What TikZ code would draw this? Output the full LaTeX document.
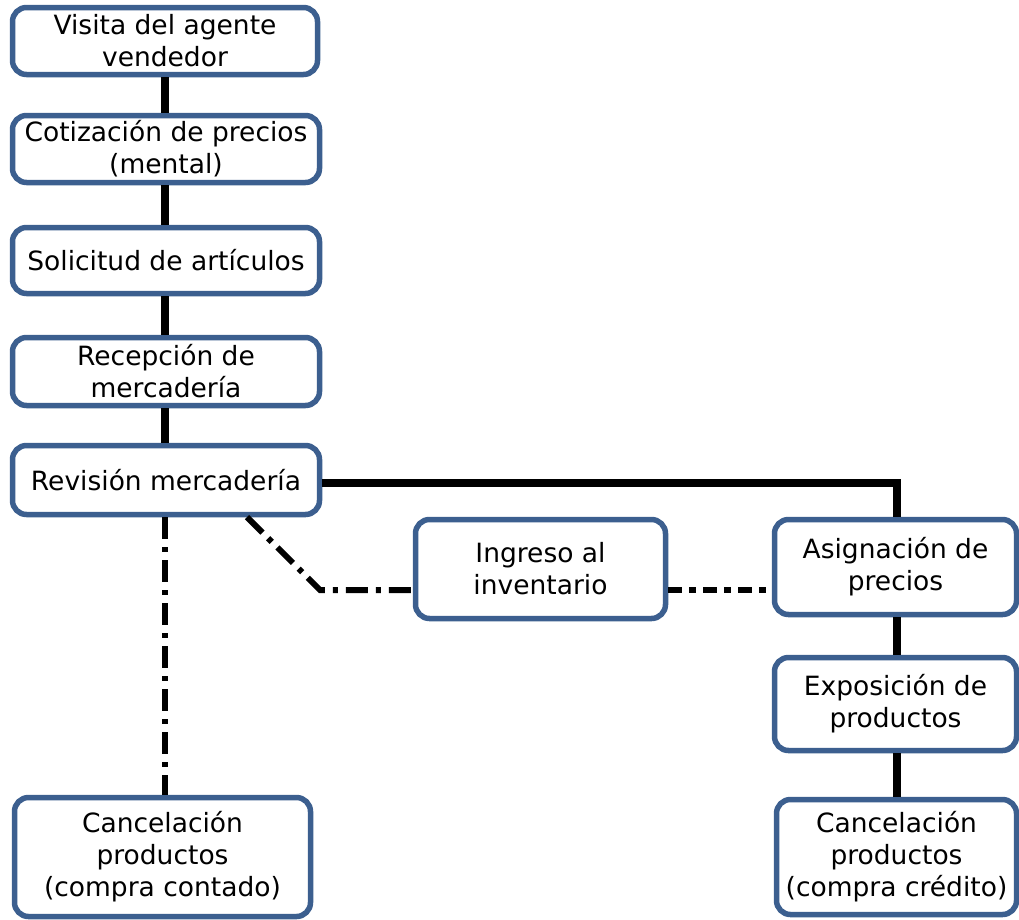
\documentclass[tikz,border=0pt]{standalone}
\usepackage{fontspec}
\setmainfont{DejaVu Sans}
\definecolor{boxblue}{RGB}{60,95,143}
\begin{document}
\begin{tikzpicture}[x=1pt,y=-1pt,
  stepbox/.style={draw=boxblue, line width=5.5pt, rounded corners=14pt, fill=white,
    align=center, inner sep=1pt,
    font=\fontsize{26.5}{32}\selectfont},
  solidlink/.style={line width=8pt, black},
  dashlink/.style={line width=6pt, black, dash pattern=on 22pt off 8pt on 5pt off 8pt},
  densedash/.style={line width=6pt, black, dash pattern=on 14pt off 7pt on 7pt off 7pt}]
\useasboundingbox (0,0) rectangle (1019,919);

% free turning points of the connectors
\coordinate (diag) at (320,590);
\coordinate (corner) at (897,483);
\coordinate (diagstart) at (247,517);

% process steps
\node[stepbox, minimum width=305pt, minimum height=67pt] (visita) at (165,41) {Visita del agente\\vendedor};
\node[stepbox, minimum width=307pt, minimum height=67pt] (cotiz) at (166,149) {Cotización de precios\\(mental)};
\node[stepbox, minimum width=307pt, minimum height=66pt] (solic) at (166,260.5) {Solicitud de artículos};
\node[stepbox, minimum width=307pt, minimum height=68pt] (recep) at (166,371.5) {Recepción de\\mercadería};
\node[stepbox, minimum width=307pt, minimum height=69pt] (revis) at (166,480) {Revisión mercadería};
\node[stepbox, minimum width=250pt, minimum height=99pt] (ingreso) at (540.5,569) {Ingreso al\\inventario};
\node[stepbox, minimum width=242pt, minimum height=95pt] (asign) at (895.5,567) {Asignación de\\precios};
\node[stepbox, minimum width=242pt, minimum height=93pt] (expo) at (895.5,704) {Exposición de\\productos};
\node[stepbox, minimum width=296pt, minimum height=119pt] (cancL) at (162.5,857) {Cancelación\\productos\\(compra contado)};
\node[stepbox, minimum width=240pt, minimum height=115pt] (cancR) at (896.5,857) {Cancelación\\productos\\(compra crédito)};

% solid links
\draw[solidlink] (visita.south -| 165,0) -- (cotiz.north -| 165,0);
\draw[solidlink] (cotiz.south -| 165,0) -- (solic.north -| 165,0);
\draw[solidlink] (solic.south -| 165,0) -- (recep.north -| 165,0);
\draw[solidlink] (recep.south -| 165,0) -- (revis.north -| 165,0);
\draw[solidlink] (revis.east |- corner) -- (corner) -- (asign.north -| corner);
\draw[solidlink] (asign.south -| corner) -- (expo.north -| corner);
\draw[solidlink] (expo.south -| corner) -- (cancR.north -| corner);

% dash-dot links
\draw[dashlink] (revis.south -| 165,0) -- (cancL.north -| 165,0);
\draw[dashlink] (diagstart) -- (diag) -- (ingreso.west |- diag);
\draw[densedash] (ingreso.east |- diag) -- (asign.west |- diag);
\end{tikzpicture}
\end{document}
